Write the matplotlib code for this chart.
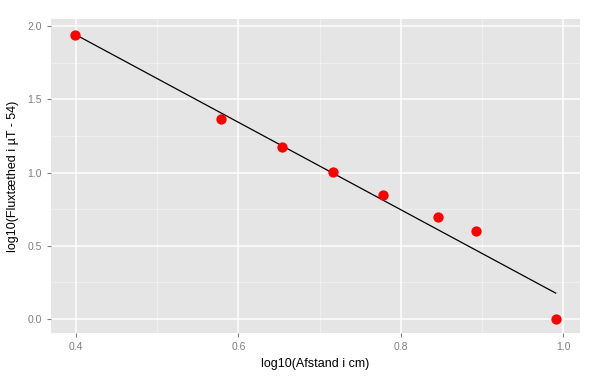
import matplotlib
matplotlib.use("Agg")
import matplotlib.pyplot as plt
import numpy as np

plt.rcParams['font.family'] = ['Liberation Sans', 'DejaVu Sans']

x_vals = [0.398, 0.578, 0.654, 0.717, 0.778, 0.846, 0.893, 0.991]
y_vals = [1.94, 1.365, 1.174, 1.003, 0.846, 0.696, 0.60, 0.0]
line_x = [0.398, 0.991]
line_y = [1.945, 0.177]
x_ticks = [0.4, 0.6, 0.8, 1.0]
y_ticks = [0.0, 0.5, 1.0, 1.5, 2.0]
x_label = "log10(Afstand i cm)"
y_label = "log10(Fluxtæthed i µT - 54)"

fig = plt.figure(figsize=(6, 3.78), dpi=100)
ax = fig.add_axes([51/600, (378-333)/378, (580-51)/600, (333-19)/378])
ax.set_facecolor('#E5E5E5')
ax.set_xlim(0.369, 1.021)
ax.set_ylim(-0.0955, 2.048)

for v in [0.5, 0.7, 0.9]:
    ax.axvline(v, color='#F2F2F2', lw=0.6, zorder=0)
for v in [0.25, 0.75, 1.25, 1.75]:
    ax.axhline(v, color='#F2F2F2', lw=0.6, zorder=0)
for v in x_ticks:
    ax.axvline(v, color='white', lw=1.1, zorder=0)
for v in y_ticks:
    ax.axhline(v, color='white', lw=1.1, zorder=0)

ax.plot(line_x, line_y, color='black', lw=0.9, zorder=2)
ax.scatter(x_vals, y_vals, s=55, color='red', zorder=3, linewidths=0)

ax.set_xticks(x_ticks)
ax.set_xticklabels([f"{v:.1f}" for v in x_ticks])
ax.set_yticks(y_ticks)
ax.set_yticklabels([f"{v:.1f}" for v in y_ticks])
ax.tick_params(colors='#7F7F7F', labelcolor='#7F7F7F', labelsize=7.5, length=3, width=0.8)
for s in ax.spines.values():
    s.set_visible(False)
ax.set_xlabel(x_label, fontsize=9, color='black', labelpad=4)
ax.set_ylabel(y_label, fontsize=9, color='black', labelpad=6)

fig.savefig("out.png", dpi=100)
